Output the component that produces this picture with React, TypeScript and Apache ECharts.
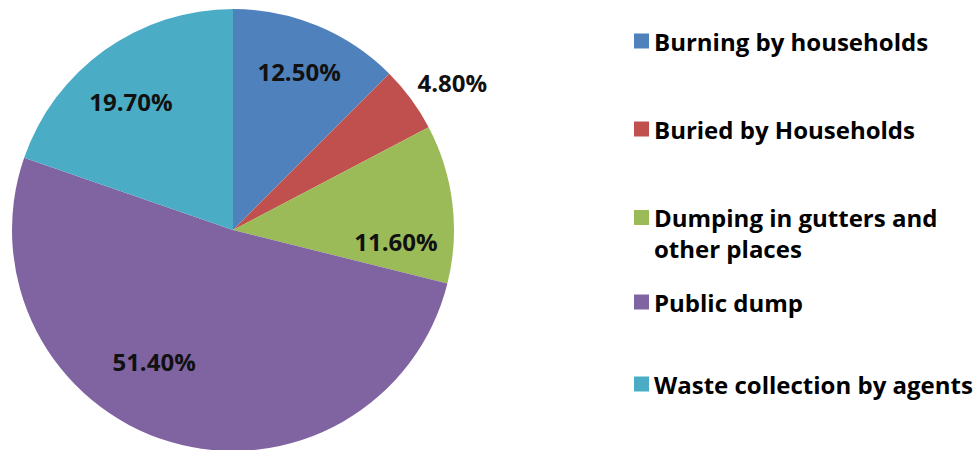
import React, { useEffect, useRef } from "react";
import * as echarts from "echarts";

const categories = [
  "Burning by households",
  "Buried by Households",
  "Dumping in gutters and other places",
  "Public dump",
  "Waste collection by agents",
];
const values = [12.5, 4.8, 11.6, 51.4, 19.7];
const colors = ["#4F81BD", "#C0504D", "#9BBB59", "#8064A2", "#4BACC6"];

// label placement: angular shift from slice mid-angle (deg) and radius fraction
const labelAngleShift = [0.2, 2.4, 11, 14.5, -3.1];
const labelRadiusFrac = [0.775, 1.196, 0.739, 0.692, 0.741];

const CX = 233;
const CY = 230;
const R = 221;
const FONT = "'Open Sans', Lato, sans-serif";

const legendCenters = [41, 129, 217, 302, 384];

export default function App() {
  const ref = useRef<HTMLDivElement>(null);
  useEffect(() => {
    if (!ref.current) return;
    const chart = echarts.init(ref.current, null, { renderer: "svg" });
    const total = values.reduce((a, b) => a + b, 0);
    const mids: number[] = [];
    let acc = 0;
    values.forEach((v) => {
      mids.push(((acc + v / 2) / total) * 360);
      acc += v;
    });

    const legends = categories.map((name, i) => {
      const multi = i === 2;
      return {
        data: [name],
        left: 634,
        top: multi ? legendCenters[i] - 46 : legendCenters[i] - 14,
        padding: 0,
        itemWidth: 15,
        itemHeight: 15,
        icon: "rect",
        selectedMode: false,
        formatter: multi ? " \nDumping in gutters and\nother places" : "{name}",
        textStyle: {
          fontFamily: FONT,
          fontWeight: "bold",
          fontSize: 24,
          color: "#000",
          lineHeight: multi ? 31 : 28,
        },
      };
    });

    chart.setOption({
      animation: false,
      backgroundColor: "#fff",
      color: colors,
      legend: legends,
      series: [
        {
          type: "pie",
          center: [CX, CY],
          radius: R,
          startAngle: 90,
          clockwise: true,
          avoidLabelOverlap: false,
          itemStyle: { borderWidth: 0 },
          label: {
            show: true,
            position: "inside",
            formatter: (p: any) => `${p.value.toFixed(2)}%`,
            fontFamily: FONT,
            fontWeight: "bold",
            fontSize: 24,
            color: "#111",
          },
          labelLine: { show: false },
          labelLayout: (params: any) => {
            const i = params.dataIndex;
            const a = ((mids[i] + labelAngleShift[i]) * Math.PI) / 180;
            const r = labelRadiusFrac[i] * R;
            return {
              x: CX + r * Math.sin(a),
              y: CY - r * Math.cos(a),
              align: "center",
              verticalAlign: "middle",
            };
          },
          data: categories.map((name, i) => ({ name, value: values[i] })),
        },
      ],
    });
    return () => chart.dispose();
  }, []);
  return (
    <div
      ref={ref}
      style={{ position: "fixed", left: 0, top: 0, width: 977, height: 450 }}
    />
  );
}
